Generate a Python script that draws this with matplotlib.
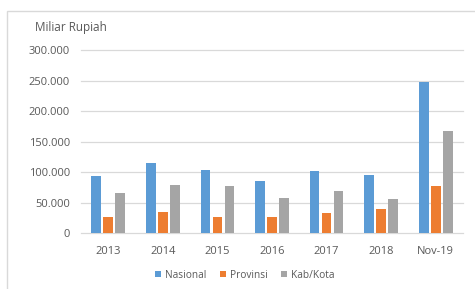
import matplotlib.pyplot as plt
import matplotlib.patches as mpatches
from matplotlib.ticker import FuncFormatter
import numpy as np

# data (miliar rupiah)
categories = ['2013', '2014', '2015', '2016', '2017', '2018', 'Nov-19']
nasional = [94000, 114500, 103600, 86000, 102500, 95400, 247600]
provinsi = [26000, 35000, 26000, 27000, 34000, 40000, 78000]
kabkota = [66500, 78500, 77400, 58000, 68700, 55600, 168000]
series_names = ['Nasional', 'Provinsi', 'Kab/Kota']
colors = ['#5B9BD5', '#ED7D31', '#A5A5A5']
yticks = [0, 50000, 100000, 150000, 200000, 250000, 300000]

plt.rcParams['font.family'] = ['Open Sans', 'DejaVu Sans']

fig = plt.figure(figsize=(4.75, 2.89), dpi=100)

# light chart border like the Excel chart frame
fig.patches.append(mpatches.Rectangle((7 / 475, -0.1), 1.2, 1 - 11 / 289 + 0.1,
                                      transform=fig.transFigure, fill=False,
                                      edgecolor='#d9d9d9', linewidth=1.0))

ax = fig.add_axes([81 / 475, 1 - 233.3 / 289, (463 - 81) / 475, (233.3 - 50) / 289])

x = np.arange(len(categories))
w = 0.18
step = 0.22
for i, (vals, name, c) in enumerate(zip([nasional, provinsi, kabkota], series_names, colors)):
    ax.bar(x + (i - 1) * step, vals, width=w, color=c, label=name, zorder=3)

ax.set_xlim(-0.5, len(categories) - 0.5)
ax.set_ylim(0, 300000)
ax.set_yticks(yticks)
ax.yaxis.set_major_formatter(FuncFormatter(lambda v, p: '0' if v == 0 else f'{int(v):,}'.replace(',', '.')))
ax.set_xticks(x)
ax.set_xticklabels(categories)

ax.grid(axis='y', color='#d9d9d9', linewidth=0.9, zorder=0)
for ln in ax.get_ygridlines():
    ln.set_clip_on(False)
for s in ax.spines.values():
    s.set_visible(False)
ax.tick_params(axis='both', length=0, labelsize=8, colors='#595959')
ax.tick_params(axis='y', pad=8)
ax.tick_params(axis='x', pad=9)

fig.text(35 / 475, 1 - 28 / 289, 'Miliar Rupiah', fontsize=8.5, color='#595959',
         ha='left', va='center')

fig.legend(loc='center', bbox_to_anchor=(245 / 475, 1 - 275 / 289), ncol=3,
           frameon=False, fontsize=7.3, handlelength=0.6, handleheight=0.6,
           handletextpad=0.4, columnspacing=1.3, labelcolor='#595959')

fig.savefig('out.png', dpi=100)
